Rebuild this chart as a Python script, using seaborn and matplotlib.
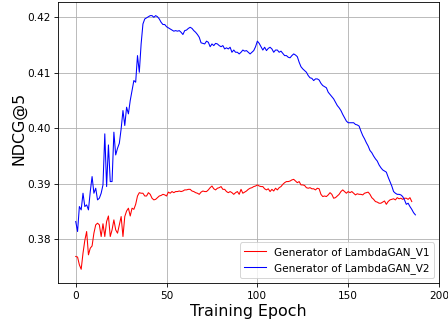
import matplotlib
matplotlib.use("Agg")
import matplotlib.pyplot as plt
import seaborn as sns
import numpy as np
import pandas as pd

series_v1 = "Generator of LambdaGAN_V1"
series_v2 = "Generator of LambdaGAN_V2"

ndcg_v1 = [
    0.3769, 0.3768, 0.3754, 0.3746, 0.3775, 0.3798, 0.3814, 0.3772, 0.3784, 0.3788,
    0.3811, 0.3826, 0.3829, 0.3826, 0.3805, 0.3828, 0.3805, 0.3832, 0.3842, 0.3805,
    0.3817, 0.3835, 0.3817, 0.3811, 0.3826, 0.3841, 0.3805, 0.3841, 0.3851, 0.3856,
    0.3842, 0.3856, 0.3854, 0.3863, 0.3878, 0.3884, 0.3883, 0.3883, 0.3878, 0.3878,
    0.3884, 0.3881, 0.3874, 0.3871, 0.3872, 0.3875, 0.3878, 0.3879, 0.3881, 0.3880,
    0.3878, 0.3885, 0.3883, 0.3886, 0.3884, 0.3886, 0.3886, 0.3887, 0.3886, 0.3887,
    0.3889, 0.3889, 0.3890, 0.3890, 0.3887, 0.3886, 0.3884, 0.3883, 0.3881, 0.3885,
    0.3887, 0.3886, 0.3886, 0.3889, 0.3893, 0.3896, 0.3891, 0.3889, 0.3892, 0.3893,
    0.3895, 0.3890, 0.3890, 0.3886, 0.3884, 0.3886, 0.3884, 0.3881, 0.3884, 0.3886,
    0.3881, 0.3890, 0.3883, 0.3885, 0.3887, 0.3890, 0.3892, 0.3893, 0.3895, 0.3896,
    0.3898, 0.3896, 0.3895, 0.3895, 0.3891, 0.3889, 0.3891, 0.3886, 0.3890, 0.3887,
    0.3892, 0.3889, 0.3893, 0.3895, 0.3899, 0.3902, 0.3904, 0.3904, 0.3905, 0.3907,
    0.3908, 0.3905, 0.3902, 0.3904, 0.3898, 0.3898, 0.3897, 0.3893, 0.3892, 0.3893,
    0.3891, 0.3891, 0.3889, 0.3892, 0.3891, 0.3881, 0.3877, 0.3878, 0.3877, 0.3880,
    0.3884, 0.3881, 0.3874, 0.3875, 0.3878, 0.3881, 0.3886, 0.3889, 0.3886, 0.3883,
    0.3886, 0.3884, 0.3886, 0.3883, 0.3880, 0.3882, 0.3881, 0.3881, 0.3880, 0.3883,
    0.3884, 0.3885, 0.3881, 0.3875, 0.3872, 0.3868, 0.3867, 0.3865, 0.3865, 0.3867,
    0.3869, 0.3863, 0.3868, 0.3871, 0.3872, 0.3873, 0.3871, 0.3875, 0.3873, 0.3874,
    0.3872, 0.3874, 0.3874, 0.3872, 0.3875, 0.3868,
]

ndcg_v2 = [
    0.3832, 0.3814, 0.3859, 0.3853, 0.3883, 0.3859, 0.3862, 0.3853, 0.3886, 0.3913,
    0.3883, 0.3892, 0.3871, 0.3874, 0.3883, 0.3898, 0.3990, 0.3895, 0.3970, 0.3904,
    0.3904, 0.3993, 0.3952, 0.3964, 0.3973, 0.3999, 0.4032, 0.4005, 0.4038, 0.4026,
    0.4050, 0.4068, 0.4086, 0.4083, 0.4131, 0.4101, 0.4152, 0.4188, 0.4197, 0.4199,
    0.4201, 0.4203, 0.4203, 0.4200, 0.4203, 0.4201, 0.4197, 0.4191, 0.4187, 0.4187,
    0.4183, 0.4181, 0.4179, 0.4177, 0.4175, 0.4176, 0.4175, 0.4176, 0.4173, 0.4169,
    0.4176, 0.4177, 0.4180, 0.4182, 0.4180, 0.4176, 0.4173, 0.4169, 0.4164, 0.4154,
    0.4153, 0.4152, 0.4157, 0.4155, 0.4147, 0.4152, 0.4149, 0.4153, 0.4152, 0.4149,
    0.4147, 0.4149, 0.4143, 0.4145, 0.4143, 0.4146, 0.4137, 0.4141, 0.4137, 0.4137,
    0.4134, 0.4137, 0.4141, 0.4139, 0.4140, 0.4137, 0.4134, 0.4137, 0.4140, 0.4147,
    0.4157, 0.4153, 0.4147, 0.4141, 0.4146, 0.4140, 0.4144, 0.4146, 0.4143, 0.4137,
    0.4141, 0.4141, 0.4137, 0.4139, 0.4135, 0.4131, 0.4131, 0.4128, 0.4127, 0.4131,
    0.4134, 0.4132, 0.4129, 0.4119, 0.4111, 0.4107, 0.4104, 0.4101, 0.4095, 0.4091,
    0.4090, 0.4086, 0.4089, 0.4089, 0.4087, 0.4081, 0.4077, 0.4075, 0.4073, 0.4065,
    0.4061, 0.4057, 0.4053, 0.4047, 0.4041, 0.4037, 0.4032, 0.4025, 0.4019, 0.4013,
    0.4010, 0.4010, 0.4010, 0.4010, 0.4007, 0.4006, 0.4004, 0.3995, 0.3987, 0.3981,
    0.3974, 0.3968, 0.3960, 0.3956, 0.3950, 0.3945, 0.3941, 0.3934, 0.3929, 0.3925,
    0.3923, 0.3921, 0.3912, 0.3904, 0.3896, 0.3886, 0.3883, 0.3881, 0.3881, 0.3880,
    0.3877, 0.3871, 0.3863, 0.3865, 0.3859, 0.3854, 0.3848, 0.3844,
]

epochs_v1 = list(range(len(ndcg_v1)))
epochs_v2 = list(range(len(ndcg_v2)))

df = pd.concat([
    pd.DataFrame({"epoch": epochs_v1, "ndcg": ndcg_v1, "series": series_v1}),
    pd.DataFrame({"epoch": epochs_v2, "ndcg": ndcg_v2, "series": series_v2}),
])

DPI = 72
S = 76 / 72.0  # effective scale of the original rendering
fig = plt.figure(figsize=(448 / DPI, 324 / DPI), dpi=DPI)
ax = fig.add_axes([58.3 / 448, (324 - 283.3) / 324, (439.0 - 58.3) / 448, (283.3 - 1.7) / 324])

sns.lineplot(data=df, x="epoch", y="ndcg", hue="series",
             palette={series_v1: "red", series_v2: "blue"},
             linewidth=1.0 * S, ax=ax)

ax.set_xlim(-9.6, 200)
ax.set_ylim(0.37207, 0.42281)
ax.set_xticks([0, 50, 100, 150, 200])
ax.set_yticks([0.38, 0.39, 0.40, 0.41, 0.42])
ax.set_yticklabels(["0.38", "0.39", "0.40", "0.41", "0.42"])
ax.grid(True, color="#b0b0b0", linewidth=0.8 * S)
ax.set_axisbelow(True)
ax.tick_params(labelsize=10 * S, direction="out", length=3.5 * S,
               width=0.8 * S, pad=3.5 * S, colors="black")
for s in ax.spines.values():
    s.set_color("black")
    s.set_linewidth(0.8 * S)

ax.set_xlabel("Training Epoch", fontsize=15 * S, labelpad=3)
ax.set_ylabel("NDCG@5", fontsize=15 * S)
ax.yaxis.set_label_coords(-0.0827, (283.3 - 128.0) / 281.6)

leg = ax.legend(loc="lower right", fontsize=10 * S, frameon=True)
leg.get_frame().set_edgecolor("#cccccc")

fig.savefig("out.png", dpi=DPI)
